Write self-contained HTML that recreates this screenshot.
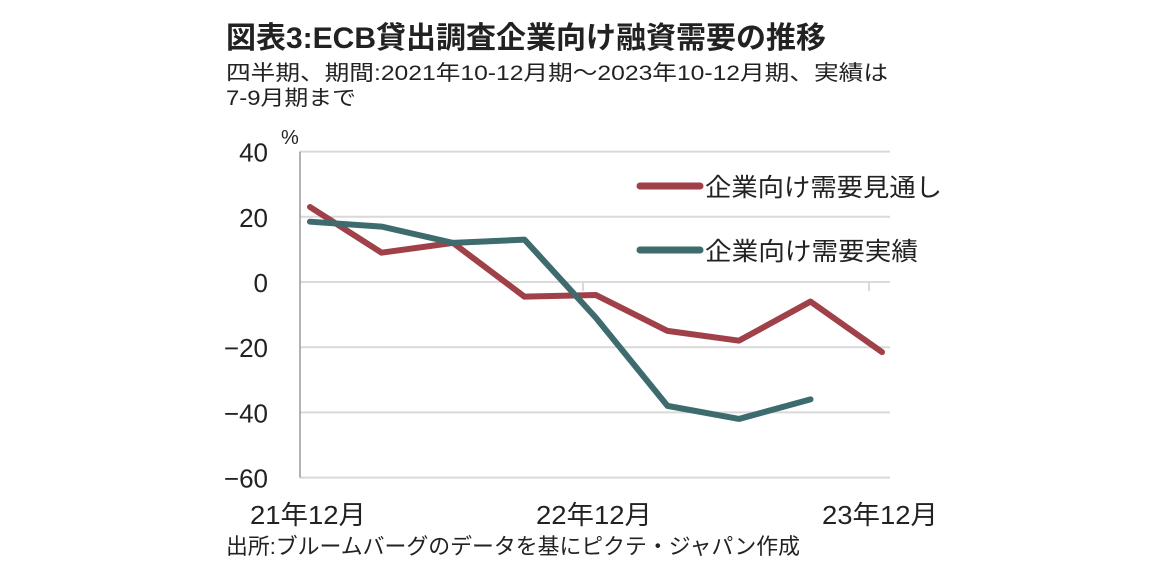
<!DOCTYPE html>
<html><head><meta charset="utf-8"><style>
body{margin:0;background:#fff;width:1152px;height:577px;overflow:hidden;font-family:"Liberation Sans","Noto Sans CJK JP",sans-serif;}
svg{position:absolute;left:0;top:0}
text{font-family:"Liberation Sans","Noto Sans CJK JP",sans-serif;fill:#222}
</style></head><body>
<svg width="1152" height="577">
<text x="226" y="48" font-size="30" font-weight="bold" textLength="600" lengthAdjust="spacingAndGlyphs">図表3:ECB貸出調査企業向け融資需要の推移</text>
<text x="226" y="80" font-size="21" textLength="662" lengthAdjust="spacingAndGlyphs">四半期、期間:2021年10-12月期～2023年10-12月期、実績は</text>
<text x="226" y="105" font-size="21" textLength="130" lengthAdjust="spacingAndGlyphs">7-9月期まで</text>
<text x="281" y="144" font-size="20">%</text>
<g id="grid"></g><g id="series"></g>
<g>
<line x1="640" y1="186" x2="700" y2="186" stroke="#a04048" stroke-width="7" stroke-linecap="round"/>
<text x="705" y="196" font-size="25" textLength="237" lengthAdjust="spacingAndGlyphs">企業向け需要見通し</text>
<line x1="640" y1="250" x2="700" y2="250" stroke="#3d6b6e" stroke-width="7" stroke-linecap="round"/>
<text x="705" y="260" font-size="25" textLength="213" lengthAdjust="spacingAndGlyphs">企業向け需要実績</text>
</g>
<text x="226" y="554" font-size="22" textLength="574" lengthAdjust="spacingAndGlyphs">出所:ブルームバーグのデータを基にピクテ・ジャパン作成</text>
</svg>
<script>
const yTicks=[40,20,0,-20,-40,-60];
const xLabels=["21年12月","22年12月","23年12月"];
const xLabelIdx=[0,4,8];
const forecast=[23,9,12,-4.5,-4,-15,-18,-6,-21.5];
const actual=[18.5,17,12,13,-11,-38,-42,-36];
const NS="http://www.w3.org/2000/svg";
const y=v=>282-v*3.26;
const x=i=>310+i*71.5;
function mk(t,a,p){const e=document.createElementNS(NS,t);for(const k in a)e.setAttribute(k,a[k]);p.appendChild(e);return e;}
const g=document.getElementById('grid'),s=document.getElementById('series');
yTicks.forEach(v=>{
 const l=mk('line',{x1:300,x2:890,y1:y(v),y2:y(v),stroke:'#d9d9d9','stroke-width':2},g);
 
 
 const t=mk('text',{x:268,y:y(v)+10,'font-size':26,'text-anchor':'end'},g);
 t.textContent=String(v).replace('-','−');
 
 
});
const ax=mk('line',{x1:300,x2:300,y1:y(40),y2:y(-60),stroke:'#999','stroke-width':1.5},g);


[583,869].forEach(px=>{const tk=mk('line',{x1:px,x2:px,y1:y(0),y2:y(0)+9,stroke:'#d9d9d9','stroke-width':2},g);
 
 });
xLabels.forEach((lb,k)=>{const t=mk('text',{x:x(xLabelIdx[k])-2,y:524,'font-size':26,'text-anchor':'middle',textLength:116,lengthAdjust:'spacingAndGlyphs'},g);
 t.textContent=lb;
 
 });
function line(d,c,n){const p=mk('polyline',{points:d.map((v,i)=>x(i)+','+y(v)).join(' '),fill:'none',stroke:c,'stroke-width':6,'stroke-linejoin':'round','stroke-linecap':'round'},s);
 
 }
line(forecast,'#a04048','forecast-line');
line(actual,'#3d6b6e','actual-line');
</script>
</body></html>
